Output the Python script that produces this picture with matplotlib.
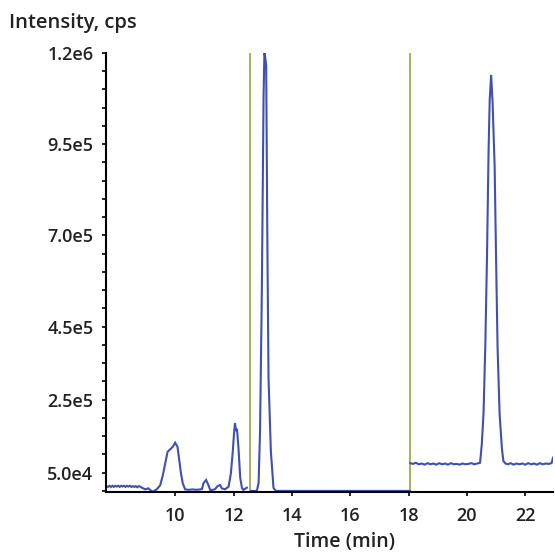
import matplotlib
matplotlib.use("Agg")
import matplotlib.pyplot as plt
from matplotlib.ticker import MultipleLocator, FixedLocator

# Segment 1: 7.6 - 12.5 min
t1 = [7.63, 7.7, 7.75, 7.8, 7.85, 7.9, 7.95, 8.0, 8.05, 8.1, 8.15, 8.2, 8.25, 8.3, 8.35,
      8.4, 8.45, 8.5, 8.55, 8.6, 8.65, 8.7, 8.75, 8.8, 8.86, 8.97, 9.08, 9.2, 9.26, 9.37,
      9.49, 9.58, 9.66, 9.74, 9.83, 9.92, 10.0, 10.08, 10.14, 10.2, 10.26, 10.34, 10.45,
      10.6, 10.75, 10.92, 10.97, 11.06, 11.14, 11.2, 11.3, 11.37, 11.45, 11.54, 11.6,
      11.71, 11.83, 11.91, 11.97, 12.02, 12.05, 12.09, 12.12, 12.17, 12.23, 12.29, 12.34,
      12.4, 12.46]
y1 = [13e3, 11e3, 14e3, 11e3, 14e3, 11e3, 14e3, 12e3, 14e3, 11e3, 14e3, 12e3, 14e3, 11e3, 14e3,
      12e3, 14e3, 11e3, 13e3, 11e3, 13e3, 10e3, 13e3, 12e3, 8.8e3, 4.4e3, 7e3, -1e3, -1e3, 4.4e3,
      16e3, 43.6e3, 75.6e3, 107e3, 114e3, 121e3, 132e3, 121e3, 84.7e3, 48e3, 21e3, 4.4e3, 3e3,
      4e3, 3e3, 5e3, 21e3, 30e3, 16e3, 2.5e3, 3e3, 5e3, 13e3, 16e3, 7e3,
      4.4e3, 11.5e3, 48e3, 103e3, 160e3, 186e3, 164e3, 170e3, 118e3, 36e3, 8e3, 2.5e3,
      6e3, 8.8e3]

# Segment 2: 12.55 - 18.05 min
t2 = [12.6, 12.8, 12.86, 12.91, 12.97, 13.03, 13.06, 13.12, 13.16, 13.2, 13.28, 13.37,
      13.45, 14.0, 15.0, 16.0, 17.0, 18.05]
y2 = [0, 0, 22e3, 165e3, 541e3, 1080e3, 1204e3, 1167e3, 686e3, 310e3, 109e3, 8.5e3,
      0, 0, 0, 0, 0, 0]

# Segment 3: 18.05 - 22.95 min
t3 = [18.06, 18.15, 18.25, 18.35, 18.45, 18.55, 18.65, 18.75, 18.85, 18.95, 19.05, 19.15,
      19.25, 19.35, 19.45, 19.55, 19.65, 19.75, 19.85, 19.95, 20.05, 20.15, 20.25, 20.35,
      20.45, 20.51, 20.57, 20.63, 20.69, 20.74, 20.78, 20.83, 20.88, 20.95, 21.0, 21.05,
      21.12, 21.2, 21.25, 21.32, 21.4, 21.5, 21.6, 21.7, 21.8, 21.9, 22.0, 22.1, 22.2,
      22.3, 22.4, 22.5, 22.6, 22.7, 22.8, 22.9, 22.95]
y3 = [76e3, 74e3, 77e3, 73e3, 75e3, 72e3, 76e3, 73e3, 75e3, 72e3, 76e3, 73e3,
      75e3, 72e3, 76e3, 73e3, 74e3, 72e3, 75e3, 73e3, 74e3, 76e3, 73e3, 75e3,
      77e3, 128e3, 215e3, 398e3, 650e3, 925e3, 1071e3, 1140e3, 1063e3, 888e3, 631e3, 394e3,
      211e3, 115e3, 82e3, 75e3, 73e3, 76e3, 72e3, 75e3, 73e3, 75e3, 72e3, 76e3, 73e3,
      75e3, 72e3, 76e3, 73e3, 75e3, 74e3, 76e3, 91e3]

window_edges = [12.55, 18.05]

ytick_vals = [5.0e4, 2.5e5, 4.5e5, 7.0e5, 9.5e5, 1.2e6]
ytick_labels = ["5.0e4", "2.5e5", "4.5e5", "7.0e5", "9.5e5", "1.2e6"]
xtick_vals = [10, 12, 14, 16, 18, 20, 22]

blue = "#3f4fb4"
olive = "#9aa43c"
txt = "#222222"
font = "Open Sans"

fig = plt.figure(figsize=(5.55, 5.54), dpi=100)
ax = fig.add_axes([106/555, (554-492)/554, (553-106)/555, (492-53)/554])

for x in window_edges:
    ax.axvline(x, color=olive, lw=1.2, zorder=1)

for t, y in [(t1, y1), (t2, y2), (t3, y3)]:
    ax.plot(t, y, color=blue, lw=1.5, zorder=2, solid_joinstyle="miter")

ax.set_xlim(7.63, 22.95)
ax.set_ylim(-3000, 1.2e6)

for s in ["top", "right"]:
    ax.spines[s].set_visible(False)
for s in ["left", "bottom"]:
    ax.spines[s].set_linewidth(1.5)
    ax.spines[s].set_color("black")

ax.yaxis.set_major_locator(FixedLocator(ytick_vals))
ax.set_yticklabels(ytick_labels)
ax.yaxis.set_minor_locator(MultipleLocator(5e4))
ax.xaxis.set_major_locator(FixedLocator(xtick_vals))
ax.xaxis.set_minor_locator(MultipleLocator(1))

ax.tick_params(axis="y", which="both", direction="out", length=3, width=1.2,
               labelsize=13, labelcolor=txt, pad=6)
ax.tick_params(axis="x", which="major", direction="out", length=3, width=1.2,
               labelsize=13, labelcolor=txt, pad=8)
ax.tick_params(axis="x", which="minor", length=0)
for lab in ax.get_xticklabels() + ax.get_yticklabels():
    lab.set_fontfamily(font)
    lab.set_fontweight(600)

fig.text(9/555, 1 - 23/554, "Intensity, cps", ha="left", va="center",
         fontsize=14.5, color=txt, fontfamily=font, fontweight=600)
fig.text(344/555, 1 - 542/554, "Time (min)", ha="center", va="center",
         fontsize=14, color=txt, fontfamily=font, fontweight=600)

fig.savefig("out.png", dpi=100)
